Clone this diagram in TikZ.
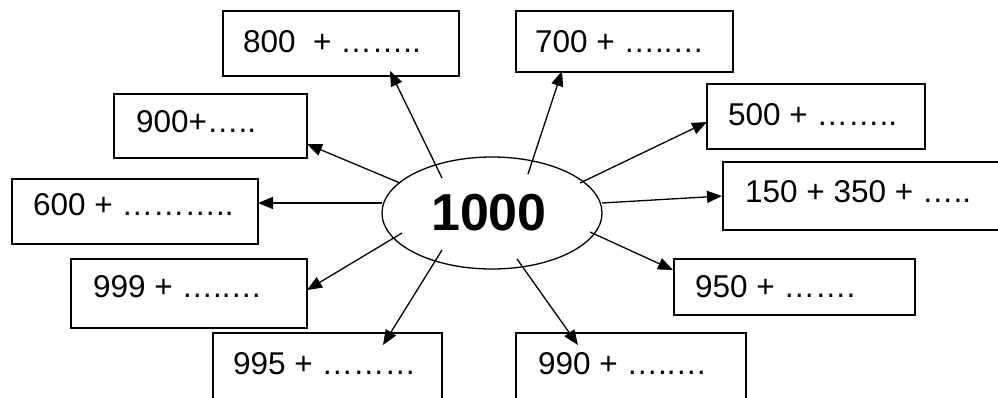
\documentclass[tikz,border=0pt]{standalone}
\usepackage{fontspec}
\setmainfont{Liberation Sans}
\usetikzlibrary{shapes.geometric,arrows.meta}
\tikzset{
  box/.style={draw, line width=1.5pt, rectangle, inner sep=0pt},
  lbl/.style={anchor=base west, inner sep=0pt, font=\fontsize{31.5}{36}\selectfont},
  conn/.style={line width=1.3pt, -{Triangle[length=15pt,width=12pt]}},
}
\newcommand{\mybox}[5]{\node[box, minimum width={#4-#2}, minimum height={#5-#3}] (#1) at ({(#2+#4)/2},{(#3+#5)/2}) {};}
\begin{document}
\begin{tikzpicture}[x=1pt,y=-1pt]
\useasboundingbox (0,0) rectangle (998,397);
\clip (0,0) rectangle (998,397);
\fill[white] (0,0) rectangle (998,397);
% boxes
\mybox{b800}{223}{11}{459}{76}
\mybox{b700}{516}{11}{733}{72}
\mybox{b900}{114}{94}{307}{158}
\mybox{b500}{707}{84}{925}{149}
\mybox{b600}{12}{179}{258}{244}
\mybox{b150}{723}{162}{1010}{230}
\mybox{b999}{71}{259}{307}{328}
\mybox{b950}{674}{259}{915}{315}
\mybox{b995}{213}{333}{442}{420}
\mybox{b990}{516}{333}{746}{420}
% texts
\node[lbl] (l800) at (243,52) {800\ \ + ……..};
\node[lbl] (l700) at (535,52) {700 + …..…};
\node[lbl] (l900) at (136,132) {900+…..};
\node[lbl] (l500) at (728,125) {500 + ……..};
\node[lbl] (l600) at (33,215) {600 + ………..};
\node[lbl] (l150) at (745,202) {150 + 350 + …..};
\node[lbl] (l999) at (93,297) {999 + …..…};
\node[lbl] (l950) at (695,297) {950 + …….};
\node[lbl] (l995) at (233,374) {995 + ………};
\node[lbl] (l990) at (538,374) {990 + …..…};
% centre
\node[draw, ellipse, line width=1.3pt, minimum width=220pt, minimum height=112pt, inner sep=0pt,
      font=\fontsize{52}{60}\selectfont\bfseries] (c) at (492,213) {\hspace*{-6pt}1000};
% connector ends
\coordinate (s800) at (442,178); \coordinate (t800) at (390,71);
\coordinate (s900) at (400,183); \coordinate (t900) at (307,144);
\coordinate (s600) at (382,203); \coordinate (t600) at (258,203);
\coordinate (s999) at (402,233); \coordinate (t999) at (307,290);
\coordinate (s995) at (442,250); \coordinate (t995) at (383,345);
\coordinate (s700) at (528,174); \coordinate (t700) at (562,71);
\coordinate (s500) at (580,183); \coordinate (t500) at (707,122);
\coordinate (s150) at (602,203); \coordinate (t150) at (722,196);
\coordinate (s950) at (590,232); \coordinate (t950) at (673,270);
\coordinate (s990) at (517,259); \coordinate (t990) at (578,345);
\foreach \n in {800,900,600,999,995,700,500,150,950,990}
  \draw[conn] (s\n) -- (t\n);
\end{tikzpicture}
\end{document}
